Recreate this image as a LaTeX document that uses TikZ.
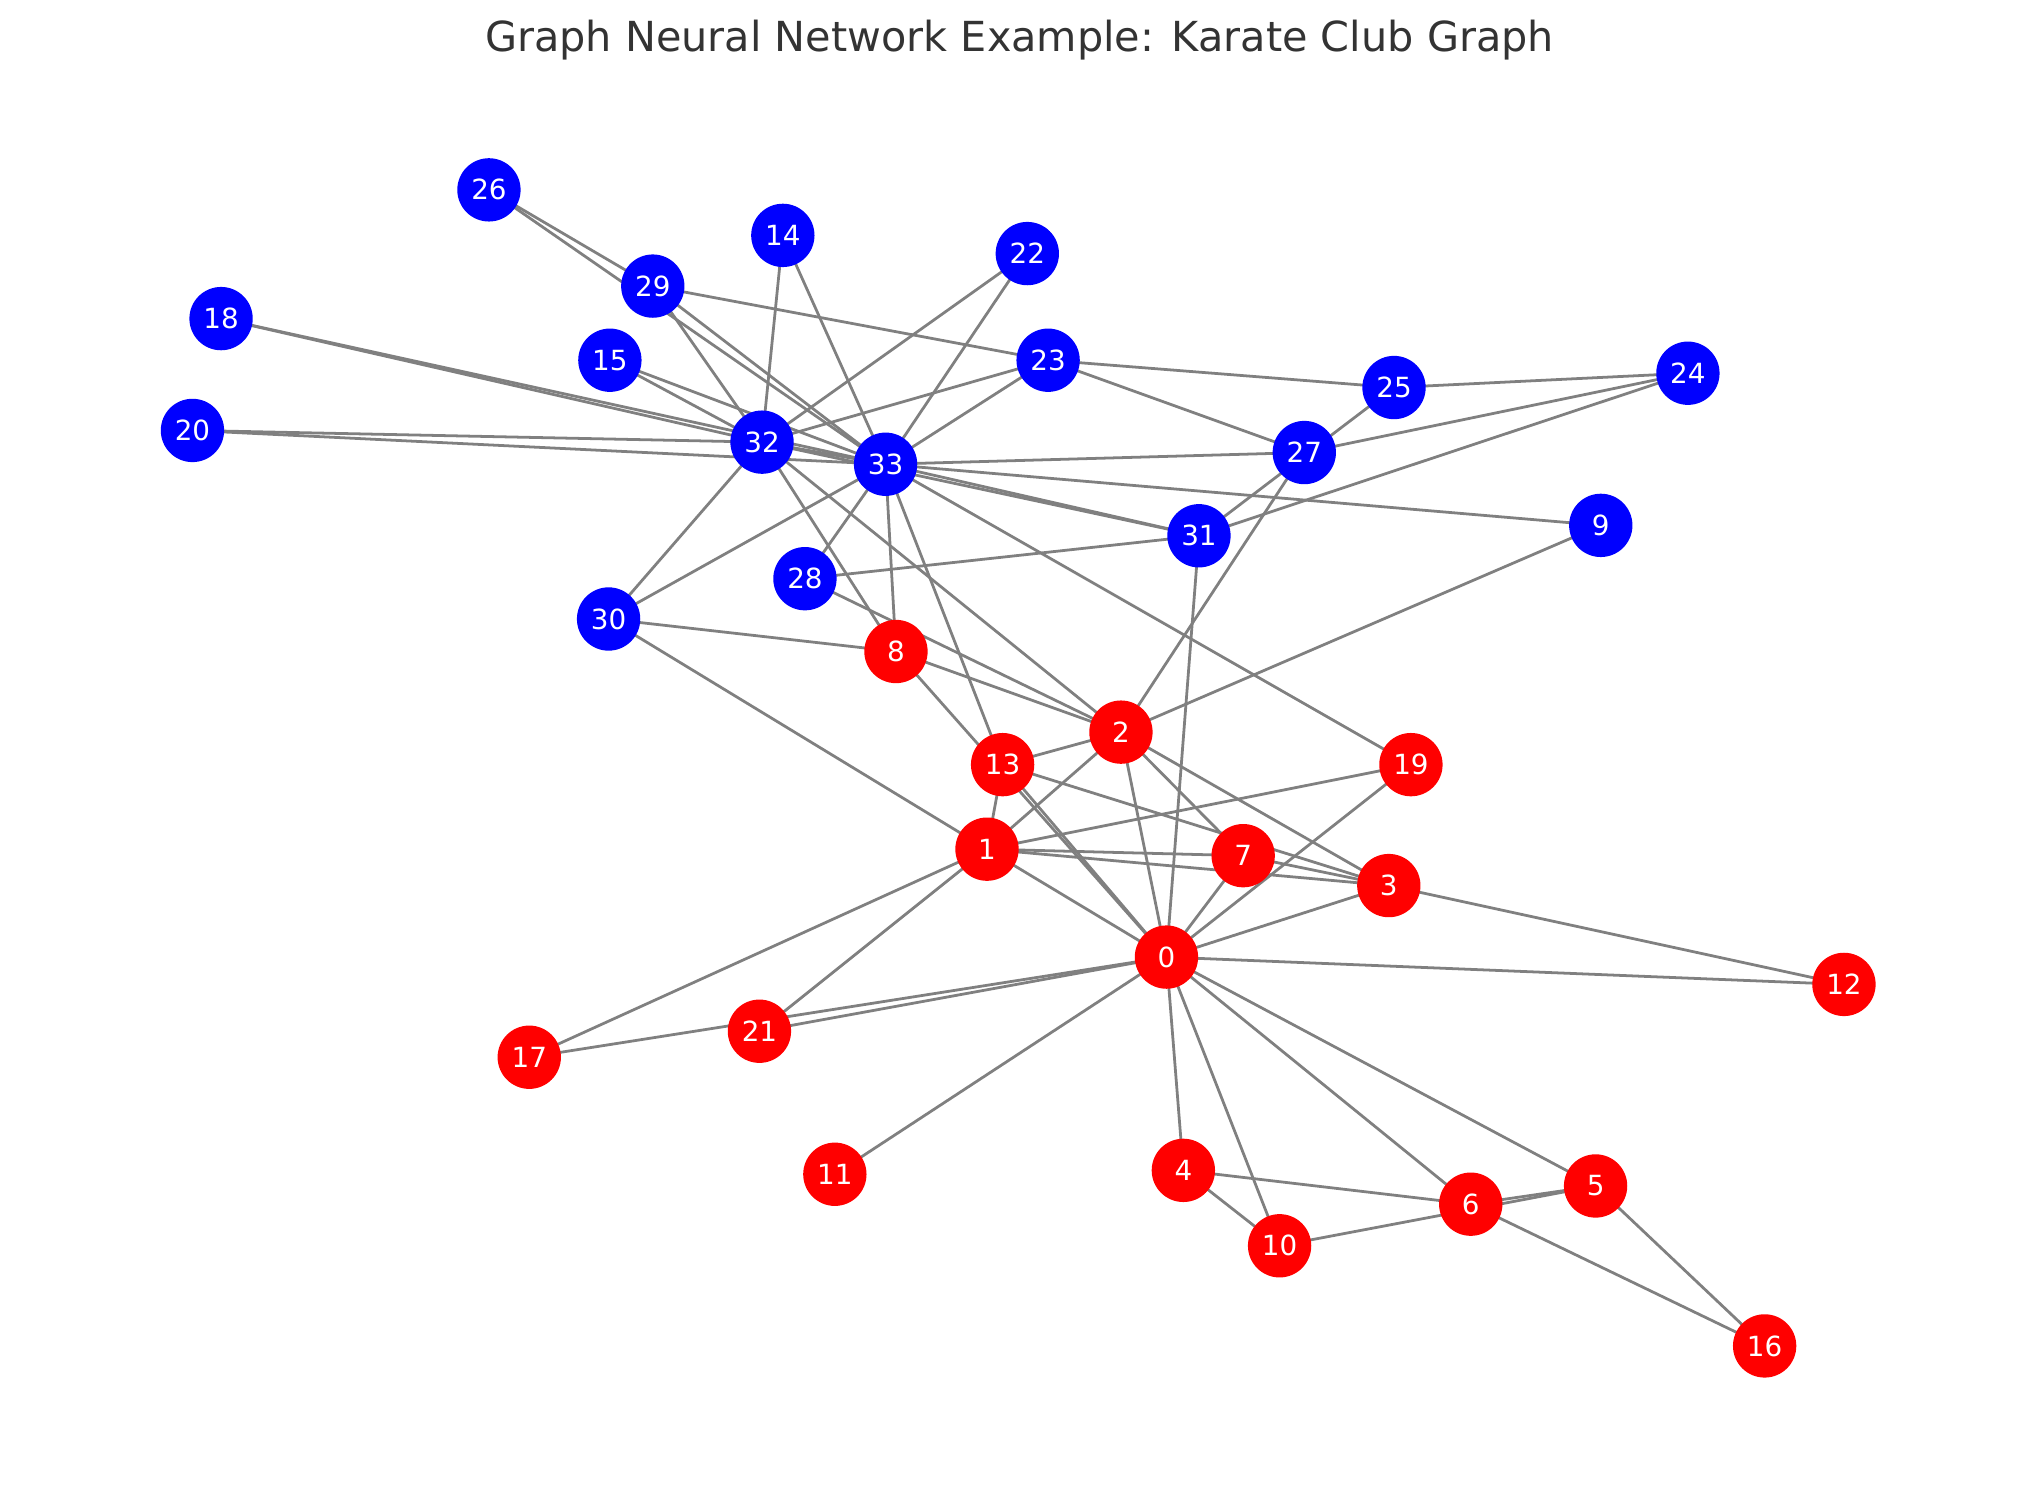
\documentclass[tikz,border=0pt]{standalone}
\usepackage{fontspec}
\setmainfont{DejaVu Sans}
\definecolor{titlegray}{HTML}{333333}
\definecolor{edgegray}{HTML}{808080}
\begin{document}
\begin{tikzpicture}[x=0.46814pt,y=-0.46814pt,
  nd/.style={circle,inner sep=0pt,minimum size=22.8pt,text=white,font=\fontsize{10}{12}\selectfont},
  rn/.style={nd,fill=red},
  bn/.style={nd,fill=blue},
  ed/.style={draw=edgegray,line width=1pt}]
\useasboundingbox (0,0) rectangle (1568,1145);
\node[text=titlegray,font=\fontsize{14.9}{18}\selectfont] (title) at (784,31) {Graph Neural Network Example: Karate Club Graph};
% node coordinates
\coordinate (p0) at (897,736);
\coordinate (p1) at (759,653);
\coordinate (p2) at (862,563);
\coordinate (p3) at (1068,681);
\coordinate (p4) at (910,900);
\coordinate (p5) at (1227,912);
\coordinate (p6) at (1131,926);
\coordinate (p7) at (956,658);
\coordinate (p8) at (689,501);
\coordinate (p9) at (1231,404);
\coordinate (p10) at (984,958);
\coordinate (p11) at (642,903);
\coordinate (p12) at (1418,757);
\coordinate (p13) at (771,588);
\coordinate (p14) at (602,181);
\coordinate (p15) at (469,277);
\coordinate (p16) at (1357,1035);
\coordinate (p17) at (407,813);
\coordinate (p18) at (170,245);
\coordinate (p19) at (1085,588);
\coordinate (p20) at (148,331);
\coordinate (p21) at (584,793);
\coordinate (p22) at (790,195);
\coordinate (p23) at (806,277);
\coordinate (p24) at (1298,287);
\coordinate (p25) at (1072,298);
\coordinate (p26) at (376,146);
\coordinate (p27) at (1003,348);
\coordinate (p28) at (619,445);
\coordinate (p29) at (502,220);
\coordinate (p30) at (468,476);
\coordinate (p31) at (922,412);
\coordinate (p32) at (586,340);
\coordinate (p33) at (681,357);
% edges
\foreach \a/\b in {0/1,0/2,0/3,0/4,0/5,0/6,0/7,0/8,0/10,0/11,0/12,0/13,0/17,0/19,0/21,0/31,
  1/2,1/3,1/7,1/13,1/17,1/19,1/21,1/30,
  2/3,2/7,2/8,2/9,2/13,2/27,2/28,2/32,
  3/7,3/12,3/13,4/6,4/10,5/6,5/10,5/16,6/16,
  8/30,8/32,8/33,9/33,13/33,14/32,14/33,15/32,15/33,18/32,18/33,19/33,20/32,20/33,22/32,22/33,
  23/25,23/27,23/29,23/32,23/33,24/25,24/27,24/31,25/31,26/29,26/33,27/33,28/31,28/33,
  29/32,29/33,30/32,30/33,31/32,31/33,32/33}
  \draw[ed] (p\a) -- (p\b);
% nodes
\foreach \i in {0,1,2,3,4,5,6,7,8,10,11,12,13,16,17,19,21}
  \node[rn] (n\i) at (p\i) {\i};
\foreach \i in {9,14,15,18,20,22,23,24,25,26,27,28,29,30,31,32,33}
  \node[bn] (n\i) at (p\i) {\i};
\end{tikzpicture}
\end{document}
